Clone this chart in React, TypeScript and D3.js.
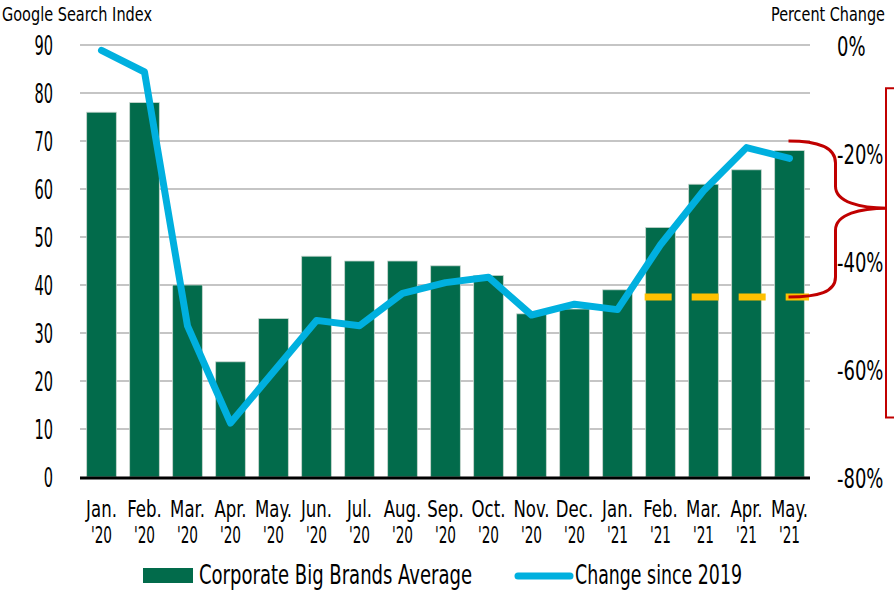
import { useEffect, useRef } from 'react';
import * as d3 from 'd3';

const monthNames = ['Jan.', 'Feb.', 'Mar.', 'Apr.', 'May.', 'Jun.', 'Jul.', 'Aug.', 'Sep.', 'Oct.', 'Nov.', 'Dec.', 'Jan.', 'Feb.', 'Mar.', 'Apr.', 'May.'];
const yearLabels = ["'20", "'20", "'20", "'20", "'20", "'20", "'20", "'20", "'20", "'20", "'20", "'20", "'21", "'21", "'21", "'21", "'21"];
const brandIndex = [76, 78, 40, 24, 33, 46, 45, 45, 44, 42, 34, 35, 39, 52, 61, 64, 68];
const changeSince2019 = [-1, -5, -52, -70, -60.5, -51, -52, -46, -44, -43, -50, -48, -49, -37, -27, -19, -21];
const leftTicks = [0, 10, 20, 30, 40, 50, 60, 70, 80, 90];
const rightTicks = [0, -20, -40, -60, -80];

// annotation levels (index units / percent)
const baselineLevel = 37.5;
const braceTop = 70;
const braceTip = 56;
const bracketTopPct = -8;
const bracketBottomPct = -69;

const FONT = "'DejaVu Sans Condensed', 'DejaVu Sans', sans-serif";
const GREEN = '#026b4b';
const CYAN = '#00b0df';
const RED = '#c00000';
const YELLOW = '#ffc000';

// squeeze text horizontally to mimic the condensed font of the original
function squeeze(sel: d3.Selection<any, any, any, any>, k: number) {
    sel.each(function () {
        const el = this as SVGTextContentElement;
        const w = el.getComputedTextLength();
        if (w > 0) {
            d3.select(el)
                .attr('textLength', w * k)
                .attr('lengthAdjust', 'spacingAndGlyphs');
        }
    });
}

export default function App() {
    const ref = useRef<SVGSVGElement | null>(null);

    useEffect(() => {
        const width = 894;
        const height = 595;
        const left = 80;
        const right = 811;
        const top = 45;
        const bottom = 477;

        const svg = d3.select(ref.current);
        svg.selectAll('*').remove();
        svg.attr('width', width).attr('height', height).style('font-family', FONT);

        const keys = monthNames.map((m, i) => `${m} ${yearLabels[i]}`);

        const x = d3.scaleBand<string>()
            .domain(keys)
            .range([left, right])
            .paddingInner(0.31)
            .paddingOuter(0.155);
        const yL = d3.scaleLinear().domain([0, 90]).range([bottom, top]);
        const yR = d3.scaleLinear().domain([-80, 0]).range([bottom, top]);

        // === Gridlines ===
        svg.append('g')
            .selectAll('line')
            .data(leftTicks.filter((d) => d > 0))
            .enter()
            .append('line')
            .attr('x1', left)
            .attr('x2', right - 1)
            .attr('y1', (d) => yL(d))
            .attr('y2', (d) => yL(d))
            .attr('stroke', '#8c8c8c')
            .attr('stroke-width', 1.2);

        // === Bars ===
        svg.append('g')
            .selectAll('rect')
            .data(brandIndex)
            .enter()
            .append('rect')
            .attr('x', (_, i) => x(keys[i])!)
            .attr('y', (d) => yL(d))
            .attr('width', x.bandwidth())
            .attr('height', (d) => yL(0) - yL(d))
            .attr('fill', GREEN)
            .attr('stroke', '#c9d6cf')
            .attr('stroke-width', 0.8);

        // axis line
        svg.append('line')
            .attr('x1', left)
            .attr('x2', right - 1)
            .attr('y1', yL(0) + 1)
            .attr('y2', yL(0) + 1)
            .attr('stroke', '#000')
            .attr('stroke-width', 3);

        // === Left ticks ===
        const lt = svg.append('g')
            .selectAll('text')
            .data(leftTicks)
            .enter()
            .append('text')
            .attr('x', 53)
            .attr('y', (d) => yL(d))
            .attr('dy', '0.36em')
            .attr('text-anchor', 'end')
            .attr('font-size', 27)
            .attr('fill', '#000')
            .text((d) => d);
        squeeze(lt, 0.6);

        // === Right ticks ===
        const rt = svg.append('g')
            .selectAll('text')
            .data(rightTicks)
            .enter()
            .append('text')
            .attr('x', 837)
            .attr('y', (d) => yR(d) + 1)
            .attr('dy', '0.36em')
            .attr('font-size', 27)
            .attr('fill', '#000')
            .text((d) => `${d}%`);
        squeeze(rt, 0.74);

        // === Axis titles ===
        svg.append('text')
            .attr('x', 2)
            .attr('y', 21)
            .attr('font-size', 20)
            .attr('textLength', 150)
            .attr('lengthAdjust', 'spacingAndGlyphs')
            .text('Google Search Index');
        svg.append('text')
            .attr('x', 771)
            .attr('y', 21)
            .attr('font-size', 20)
            .attr('textLength', 114)
            .attr('lengthAdjust', 'spacingAndGlyphs')
            .text('Percent Change');

        // === Month labels ===
        const cx = (d: string) => x(d)! + x.bandwidth() / 2;
        const mg = svg.append('g')
            .attr('text-anchor', 'middle')
            .attr('font-size', 23)
            .attr('fill', '#000');
        const ml = mg.selectAll('text.m')
            .data(keys)
            .enter()
            .append('text')
            .attr('class', 'm')
            .attr('x', cx)
            .attr('y', 517)
            .text((_, i) => monthNames[i]);
        squeeze(ml, 0.8);
        const yl = mg.selectAll('text.y')
            .data(keys)
            .enter()
            .append('text')
            .attr('class', 'y')
            .attr('x', cx)
            .attr('y', 543)
            .text((_, i) => yearLabels[i]);
        squeeze(yl, 0.66);

        // === Yellow dashed baseline ===
        svg.append('line')
            .attr('x1', x(keys[13])! - 1)
            .attr('x2', right - 2)
            .attr('y1', yL(baselineLevel))
            .attr('y2', yL(baselineLevel))
            .attr('stroke', YELLOW)
            .attr('stroke-width', 7)
            .attr('stroke-dasharray', '27 20');

        // === Change line ===
        const line = d3.line<number>()
            .x((_, i) => cx(keys[i]))
            .y((d) => yR(d));
        svg.append('path')
            .datum(changeSince2019)
            .attr('d', line)
            .attr('fill', 'none')
            .attr('stroke', CYAN)
            .attr('stroke-width', 7)
            .attr('stroke-linecap', 'round')
            .attr('stroke-linejoin', 'round');

        // === Red brace ===
        const bx = cx(keys[16]) - 1;
        const yt = yL(braceTop);
        const yb = yL(baselineLevel);
        const ym = yL(braceTip);
        const vx = bx + 47;
        const tipX = 887;
        const brace = d3.path();
        brace.moveTo(bx, yt);
        brace.bezierCurveTo(bx + 30, yt, vx, yt + 6, vx, yt + 22);
        brace.lineTo(vx, ym - 22);
        brace.bezierCurveTo(vx, ym - 6, vx + 25, ym, tipX, ym);
        brace.bezierCurveTo(vx + 25, ym, vx, ym + 6, vx, ym + 22);
        brace.lineTo(vx, yb - 20);
        brace.bezierCurveTo(vx, yb - 5, bx + 30, yb, bx, yb);
        svg.append('path')
            .attr('d', brace.toString())
            .attr('fill', 'none')
            .attr('stroke', RED)
            .attr('stroke-width', 3);

        // bracket on the right edge
        const ry1 = yR(bracketTopPct);
        const ry2 = yR(bracketBottomPct);
        svg.append('path')
            .attr('d', `M${width},${ry1}H886V${ry2}H${width}`)
            .attr('fill', 'none')
            .attr('stroke', RED)
            .attr('stroke-width', 2);

        // === Legend ===
        const legend = svg.append('g');
        legend.append('rect')
            .attr('x', 143)
            .attr('y', 568)
            .attr('width', 50)
            .attr('height', 15)
            .attr('fill', GREEN);
        legend.append('text')
            .attr('x', 199)
            .attr('y', 584)
            .attr('font-size', 27)
            .attr('textLength', 273)
            .attr('lengthAdjust', 'spacingAndGlyphs')
            .text('Corporate Big Brands Average');
        legend.append('line')
            .attr('x1', 518)
            .attr('x2', 570)
            .attr('y1', 576)
            .attr('y2', 576)
            .attr('stroke', CYAN)
            .attr('stroke-width', 7)
            .attr('stroke-linecap', 'round');
        legend.append('text')
            .attr('x', 575)
            .attr('y', 584)
            .attr('font-size', 27)
            .attr('textLength', 167)
            .attr('lengthAdjust', 'spacingAndGlyphs')
            .text('Change since 2019');
    }, []);

    return (
        <svg
            ref={ref}
            width={894}
            height={595}
            style={{ position: 'absolute', left: 0, top: 0, background: '#fff' }}
        />
    );
}
